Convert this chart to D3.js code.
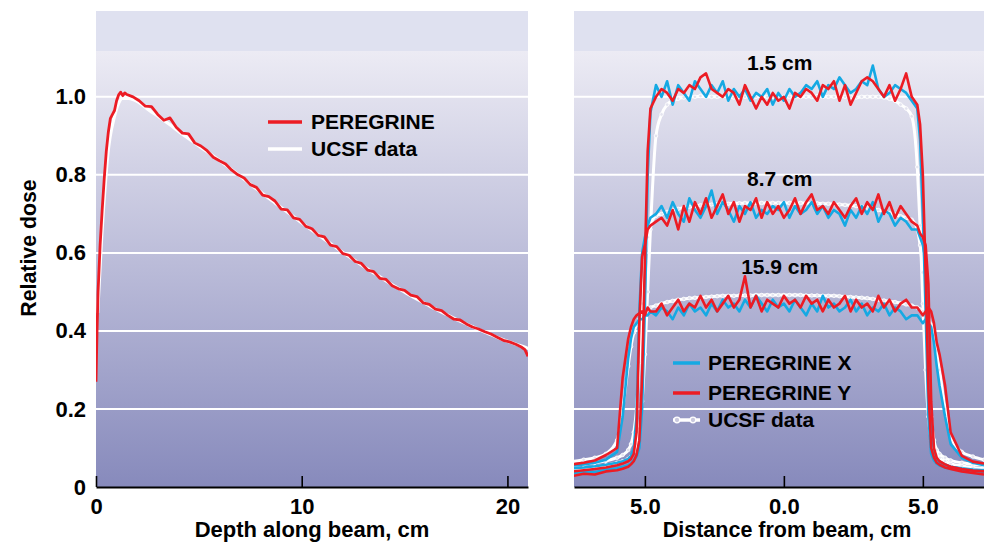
<!DOCTYPE html>
<html><head><meta charset="utf-8">
<script src="https://cdn.jsdelivr.net/npm/d3@7"></script>
<style>
body{margin:0;background:#fff}
svg{display:block}
text{font-family:"Liberation Sans",Arial,Helvetica,sans-serif;font-weight:bold;fill:#000}
</style>
</head><body>
<svg id="c" width="984" height="543"></svg>
<script>
// ---------- DATA ----------
const yTicks = [0, 0.2, 0.4, 0.6, 0.8, 1.0];
const yTickLabels = ["0", "0.2", "0.4", "0.6", "0.8", "1.0"];
const depthTicks = [0, 10, 20];
const depthTickLabels = ["0", "10", "20"];
const distTicks = [-5, 0, 5];
const distTickLabels = ["5.0", "0.0", "5.0"];

// Left panel: depth dose
const peregrineDepth = [0,0.05,0.1,0.2,0.3,0.4,0.5,0.6,0.7,0.8,0.9,1.0,1.1,1.2,1.3,1.4,1.5,
 1.8,2.1,2.4,2.7,3.0,3.3,3.6,3.9,4.2,4.5,4.8,5.1,5.4,5.7,6.0,6.3,6.6,6.9,7.2,7.5,
 7.8,8.1,8.4,8.7,9.0,9.3,9.6,9.9,10.2,10.5,10.8,11.1,11.4,11.7,12.0,12.3,12.6,12.9,13.2,13.5,
 13.8,14.1,14.4,14.7,15.0,15.3,15.6,15.9,16.2,16.5,16.8,17.1,17.4,17.7,18.0,18.3,18.6,18.9,19.2,19.5,
 19.8,20.1,20.4,20.7,20.85,21.0];
const peregrineDose = [0.27,0.40,0.50,0.62,0.71,0.79,0.86,0.91,0.945,0.955,0.965,0.99,1.005,1.012,1.003,1.01,1.006,
 1.0,0.99,0.976,0.975,0.955,0.94,0.946,0.922,0.907,0.905,0.882,0.874,0.862,0.845,0.836,0.828,0.812,0.8,0.792,0.775,
 0.768,0.748,0.744,0.733,0.712,0.71,0.69,0.686,0.668,0.662,0.645,0.641,0.62,0.616,0.598,0.594,0.578,0.573,0.556,0.552,
 0.535,0.532,0.516,0.508,0.504,0.492,0.488,0.472,0.468,0.456,0.452,0.44,0.43,0.428,0.418,0.41,0.405,0.398,0.392,0.384,
 0.376,0.372,0.366,0.358,0.352,0.335];
const ucsfDepth = [0,0.1,0.2,0.3,0.4,0.5,0.6,0.8,1.0,1.2,1.5,2.0,2.5,3,3.5,4,4.5,5,5.5,6,6.5,7,7.5,8,8.5,9,9.5,10,
 10.5,11,11.5,12,12.5,13,13.5,14,14.5,15,15.5,16,16.5,17,17.5,18,18.5,19,19.5,20,20.5,21];
const ucsfDose = [0.45,0.55,0.65,0.73,0.80,0.86,0.90,0.95,0.985,1.0,1.0,0.99,0.97,0.952,0.933,0.913,0.894,0.875,0.857,0.838,
 0.818,0.798,0.777,0.757,0.737,0.717,0.698,0.678,0.659,0.64,0.621,0.602,0.585,0.567,0.55,0.533,0.517,0.501,0.486,0.472,
 0.458,0.445,0.432,0.42,0.408,0.397,0.386,0.376,0.367,0.358];

// Right panel: lateral profiles
const profileX = [-7.6,-7.2,-6.8,-6.4,-6.0,-5.8,-5.6,-5.5,-5.4,-5.3,-5.2,-5.1,-5.0,-4.9,-4.8,
 -4.6,-4.4,-4.2,-4.0,-3.8,-3.6,-3.4,-3.2,-3.0,-2.8,-2.6,-2.4,-2.2,-2.0,-1.8,-1.6,-1.4,-1.2,-1.0,-0.8,-0.6,-0.4,-0.2,
 0.0,0.2,0.4,0.6,0.8,1.0,1.2,1.4,1.6,1.8,2.0,2.2,2.4,2.6,2.8,3.0,3.2,3.4,3.6,3.8,4.0,4.2,4.4,4.6,
 4.8,4.9,5.0,5.1,5.2,5.3,5.4,5.5,5.6,5.8,6.0,6.4,6.8,7.2];

const peregrineX_1_5 = [0.035,0.040,0.038,0.044,0.048,0.052,0.056,0.060,0.068,0.078,0.10,0.20,0.46,0.80,0.96,
 1.03,1.00,1.04,0.98,1.03,1.01,0.99,1.04,1.02,1.00,1.03,1.01,1.04,0.99,1.02,1.00,1.02,0.99,1.01,1.00,1.02,0.98,1.01,
 0.99,1.02,1.00,1.01,1.03,1.02,1.04,1.00,1.03,1.02,1.05,1.03,1.01,1.02,1.04,1.03,1.08,1.02,1.00,1.01,1.03,1.02,1.01,0.99,
 0.97,0.89,0.70,0.45,0.18,0.085,0.068,0.060,0.055,0.050,0.047,0.043,0.040,0.038];
const peregrineY_1_5 = [0.028,0.034,0.032,0.040,0.043,0.047,0.052,0.058,0.066,0.082,0.12,0.28,0.58,0.86,0.97,
 1.00,1.02,1.01,0.99,1.02,1.01,1.03,1.02,1.05,1.06,1.02,1.01,1.00,1.02,1.01,0.98,1.03,1.00,0.97,1.00,0.98,1.01,0.99,
 1.00,0.97,1.01,1.00,1.02,1.01,0.99,1.03,1.02,1.04,0.99,1.03,0.98,1.01,1.04,1.05,1.04,1.02,1.00,1.03,0.99,1.02,1.06,1.00,
 0.98,0.93,0.80,0.55,0.25,0.10,0.075,0.062,0.057,0.050,0.046,0.040,0.036,0.032];
const ucsf_1_5 = [0.045,0.048,0.052,0.056,0.062,0.066,0.072,0.078,0.09,0.11,0.15,0.22,0.34,0.50,0.66,
 0.90,0.955,0.98,0.99,0.995,0.998,1.0,1.0,1.002,1.0,1.0,1.0,1.002,1.0,0.998,1.0,1.0,1.0,1.0,1.002,1.0,1.0,0.998,
 1.0,1.0,1.0,1.0,1.0,1.0,1.002,1.0,1.0,1.0,1.0,1.0,1.0,0.998,1.0,1.0,1.0,1.0,0.998,0.995,0.99,0.98,0.97,0.95,
 0.82,0.67,0.47,0.30,0.18,0.12,0.095,0.083,0.075,0.066,0.06,0.054,0.05,0.047];

const peregrineX_8_7 = [0.048,0.05,0.053,0.057,0.062,0.066,0.072,0.080,0.10,0.18,0.45,0.60,0.64,0.67,0.69,
 0.70,0.72,0.69,0.73,0.70,0.68,0.74,0.71,0.69,0.72,0.76,0.70,0.73,0.71,0.68,0.72,0.70,0.73,0.69,0.71,0.70,0.72,0.71,
 0.73,0.69,0.72,0.70,0.71,0.73,0.70,0.72,0.69,0.71,0.70,0.67,0.71,0.69,0.72,0.70,0.73,0.68,0.71,0.70,0.67,0.69,0.68,0.66,
 0.66,0.64,0.62,0.58,0.42,0.17,0.09,0.072,0.064,0.057,0.052,0.048,0.045,0.043];
const peregrineY_8_7 = [0.040,0.043,0.046,0.050,0.056,0.060,0.066,0.072,0.085,0.14,0.42,0.59,0.62,0.66,0.67,
 0.68,0.69,0.67,0.71,0.66,0.72,0.68,0.73,0.70,0.74,0.69,0.72,0.75,0.70,0.73,0.68,0.72,0.71,0.74,0.69,0.73,0.70,0.72,
 0.69,0.71,0.74,0.70,0.73,0.75,0.71,0.72,0.70,0.73,0.71,0.69,0.72,0.74,0.70,0.73,0.71,0.75,0.70,0.73,0.69,0.72,0.70,0.68,
 0.67,0.65,0.64,0.62,0.52,0.22,0.10,0.075,0.066,0.058,0.052,0.046,0.042,0.040];
const ucsf_8_7 = [0.055,0.058,0.062,0.067,0.075,0.082,0.095,0.11,0.14,0.2,0.32,0.47,0.58,0.64,0.67,
 0.695,0.70,0.705,0.71,0.713,0.716,0.718,0.72,0.722,0.723,0.724,0.725,0.726,0.726,0.727,0.727,0.728,0.728,0.728,0.728,0.728,0.728,0.728,
 0.728,0.728,0.728,0.728,0.728,0.727,0.727,0.726,0.726,0.725,0.724,0.723,0.722,0.72,0.718,0.716,0.713,0.71,0.706,0.702,0.698,0.694,0.69,0.685,
 0.66,0.62,0.55,0.44,0.30,0.18,0.12,0.095,0.085,0.075,0.068,0.062,0.058,0.055];

const peregrineX_15_9 = [0.055,0.058,0.062,0.07,0.09,0.18,0.33,0.38,0.41,0.42,0.43,0.43,0.44,0.44,0.45,
 0.44,0.46,0.45,0.43,0.46,0.44,0.47,0.45,0.46,0.44,0.47,0.45,0.48,0.46,0.47,0.45,0.48,0.46,0.49,0.47,0.45,0.48,0.46,
 0.47,0.45,0.48,0.46,0.44,0.47,0.45,0.49,0.46,0.47,0.45,0.46,0.48,0.45,0.47,0.44,0.46,0.45,0.47,0.44,0.46,0.45,0.43,0.44,
 0.44,0.43,0.42,0.43,0.42,0.41,0.37,0.31,0.26,0.18,0.11,0.075,0.062,0.056];
const peregrineY_15_9 = [0.058,0.062,0.068,0.082,0.10,0.28,0.38,0.41,0.43,0.44,0.445,0.45,0.44,0.46,0.45,
 0.45,0.47,0.44,0.46,0.48,0.45,0.47,0.46,0.49,0.46,0.48,0.45,0.47,0.49,0.46,0.48,0.54,0.46,0.49,0.45,0.48,0.47,0.46,
 0.49,0.47,0.48,0.46,0.49,0.47,0.48,0.45,0.48,0.46,0.47,0.49,0.45,0.48,0.46,0.47,0.45,0.49,0.46,0.48,0.45,0.47,0.48,0.46,
 0.46,0.45,0.44,0.45,0.46,0.45,0.42,0.37,0.34,0.26,0.14,0.08,0.065,0.06];
const ucsf_15_9 = [0.065,0.07,0.075,0.085,0.12,0.2,0.31,0.36,0.395,0.415,0.43,0.44,0.448,0.455,0.46,
 0.465,0.47,0.474,0.477,0.48,0.482,0.484,0.485,0.486,0.487,0.488,0.489,0.49,0.49,0.49,0.491,0.491,0.491,0.492,0.492,0.492,0.492,0.492,
 0.492,0.492,0.492,0.492,0.491,0.491,0.491,0.49,0.49,0.49,0.489,0.488,0.487,0.486,0.485,0.484,0.482,0.48,0.478,0.476,0.474,0.471,0.468,0.465,
 0.46,0.455,0.45,0.44,0.43,0.415,0.39,0.35,0.30,0.2,0.13,0.09,0.078,0.07];

const depthLabels = ["1.5 cm", "8.7 cm", "15.9 cm"];
const depthLabelValues = [1.087, 0.79, 0.564];

// ---------- DRAWING ----------
const RED = "#ec1c24", BLUE = "#15a9e3";
const FONT = "Liberation Sans, Arial, sans-serif";
const svg = d3.select("#c");
const plotTop = 11, plotBottom = 487, bandBottom = 51;
const y = d3.scaleLinear().domain([0, 1.22]).range([plotBottom, plotTop]);
const xL = d3.scaleLinear().domain([0, 21]).range([96, 528]);
const xR = d3.scaleLinear().domain([-7.55, 7.2]).range([574, 984]);

const defs = svg.append("defs");
const grad = defs.append("linearGradient").attr("id", "bg")
  .attr("gradientUnits", "userSpaceOnUse").attr("x1", 0).attr("x2", 0)
  .attr("y1", bandBottom).attr("y2", plotBottom);
grad.append("stop").attr("offset", 0).attr("stop-color", "#ecebf4");
grad.append("stop").attr("offset", 1).attr("stop-color", "#878abc");

function panel(xs, id) {
  const [x0, x1] = xs.range();
  svg.append("rect").attr("x", x0).attr("y", plotTop).attr("width", x1 - x0).attr("height", bandBottom - plotTop).attr("fill", "#dfe1f0");
  svg.append("rect").attr("x", x0).attr("y", bandBottom).attr("width", x1 - x0).attr("height", plotBottom - bandBottom).attr("fill", "url(#bg)");
  svg.append("g").selectAll("line").data(yTicks.filter(d => d > 0)).join("line")
    .attr("x1", x0).attr("x2", x1).attr("y1", d => y(d)).attr("y2", d => y(d))
    .attr("stroke", "#fff").attr("stroke-width", 2);
  defs.append("clipPath").attr("id", id).append("rect")
    .attr("x", x0).attr("y", plotTop).attr("width", x1 - x0).attr("height", plotBottom - plotTop);
  return svg.append("g").attr("clip-path", `url(#${id})`);
}

const gL = panel(xL, "clipL");
const gR = panel(xR, "clipR");

// Left curves
gL.append("path").datum(d3.zip(ucsfDepth, ucsfDose).map(d => [d[0] + 0.08, d[1] - 0.004]))
  .attr("d", d3.line().x(d => xL(d[0])).y(d => y(d[1])).curve(d3.curveMonotoneX))
  .attr("fill", "none").attr("stroke", "#fff").attr("stroke-width", 3.2);
gL.append("path").datum(d3.zip(peregrineDepth, peregrineDose))
  .attr("d", d3.line().x(d => xL(d[0])).y(d => y(d[1]))).attr("fill", "none").attr("stroke", RED)
  .attr("stroke-width", 2.8).attr("stroke-linejoin", "round");

// Right curves
const lineSmooth = d3.line().x(d => xR(d[0])).y(d => y(d[1])).curve(d3.curveMonotoneX);
const lineR = d3.line().x(d => xR(d[0])).y(d => y(d[1]));
const ucsfSets = [ucsf_1_5, ucsf_8_7, ucsf_15_9];
const blueSets = [peregrineX_1_5, peregrineX_8_7, peregrineX_15_9];
const redSets = [peregrineY_1_5, peregrineY_8_7, peregrineY_15_9];
ucsfSets.forEach(s => {
  const pts = d3.zip(profileX, s);
  gR.append("path").datum(pts).attr("d", lineSmooth)
    .attr("fill", "none").attr("stroke", "#fff").attr("stroke-width", 3);
  gR.append("g").selectAll("circle").data(pts).join("circle")
    .attr("cx", d => xR(d[0])).attr("cy", d => y(d[1])).attr("r", 1.8)
    .attr("fill", "#e4e4ef").attr("stroke", "#fff").attr("stroke-width", 0.8);
});
blueSets.forEach(s => {
  gR.append("path").datum(d3.zip(profileX, s)).attr("d", lineR)
    .attr("fill", "none").attr("stroke", BLUE).attr("stroke-width", 2.6).attr("stroke-linejoin", "round");
});
redSets.forEach(s => {
  gR.append("path").datum(d3.zip(profileX, s)).attr("d", lineR)
    .attr("fill", "none").attr("stroke", RED).attr("stroke-width", 2.6).attr("stroke-linejoin", "round");
});

// Depth annotations
svg.append("g").selectAll("text").data(depthLabels).join("text")
  .attr("x", xR(-0.15)).attr("y", (d, i) => y(depthLabelValues[i])).attr("dy", "0.35em")
  .attr("text-anchor", "middle").attr("font-size", 21).text(d => d);

// Axes
function xAxis(xs, vals, labels) {
  const g = svg.append("g").attr("transform", `translate(0,${plotBottom})`)
    .call(d3.axisBottom(xs).tickValues(vals).tickFormat((d, i) => labels[i])
      .tickSizeInner(-11).tickSizeOuter(0).tickPadding(11));
  g.select(".domain").attr("stroke", "#000").attr("stroke-width", 2.2);
  g.selectAll(".tick line").attr("stroke", "#000").attr("stroke-width", 1.6);
  g.selectAll(".tick text").attr("font-size", 22).attr("font-family", FONT).attr("font-weight", "bold").attr("fill", "#000");
}
xAxis(xL, depthTicks, depthTickLabels);
xAxis(xR, distTicks, distTickLabels);

const ya = svg.append("g").attr("transform", `translate(96,0)`)
  .call(d3.axisLeft(y).tickValues(yTicks).tickFormat((d, i) => yTickLabels[i]).tickSize(0).tickPadding(10));
ya.select(".domain").remove();
ya.selectAll(".tick text").attr("font-size", 22).attr("font-family", FONT).attr("font-weight", "bold").attr("fill", "#000");

// Axis titles
svg.append("text").attr("x", 312).attr("y", 537).attr("text-anchor", "middle").attr("font-size", 22).text("Depth along beam, cm");
svg.append("text").attr("x", 787).attr("y", 537).attr("text-anchor", "middle").attr("font-size", 21.5).text("Distance from beam, cm");
svg.append("text").attr("transform", "translate(36,248) rotate(-90)").attr("text-anchor", "middle").attr("font-size", 21.3).text("Relative dose");

// Left legend
const legL = [{c: RED, t: "PEREGRINE", yy: 122}, {c: "#fff", t: "UCSF data", yy: 149}];
legL.forEach(d => {
  svg.append("line").attr("x1", 268).attr("x2", 302).attr("y1", d.yy).attr("y2", d.yy).attr("stroke", d.c).attr("stroke-width", 3.5);
  svg.append("text").attr("x", 311).attr("y", d.yy).attr("dy", "0.35em").attr("font-size", 21).text(d.t);
});
// Right legend
const legR = [{c: BLUE, t: "PEREGRINE X", yy: 363}, {c: RED, t: "PEREGRINE Y", yy: 393}, {c: "#fff", t: "UCSF data", yy: 420, m: true}];
legR.forEach(d => {
  svg.append("line").attr("x1", 673).attr("x2", 700).attr("y1", d.yy).attr("y2", d.yy).attr("stroke", d.c).attr("stroke-width", 3.5);
  if (d.m) {
    [677, 693].forEach(cx => svg.append("circle").attr("cx", cx).attr("cy", d.yy).attr("r", 2.8)
      .attr("fill", "#c9c9de").attr("stroke", "#fff").attr("stroke-width", 1.3));
  }
  svg.append("text").attr("x", 708).attr("y", d.yy).attr("dy", "0.35em").attr("font-size", 21).text(d.t);
});
</script>
</body></html>
